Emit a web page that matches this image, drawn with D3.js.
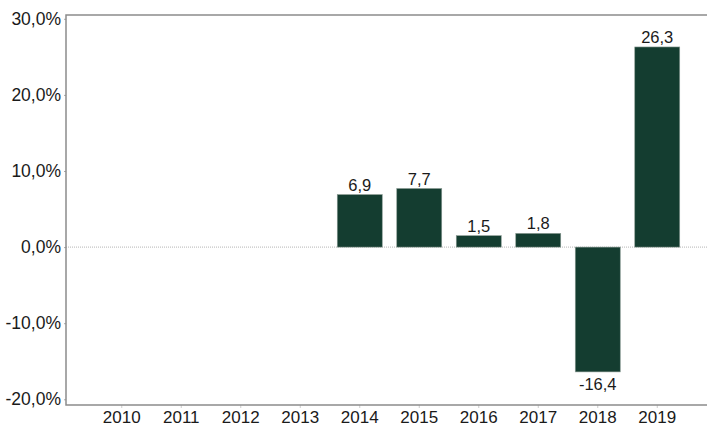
<!DOCTYPE html>
<meta charset="utf-8">
<script src="https://d3js.org/d3.v7.min.js"></script>
<style>
  body { margin: 0; background: #fff; }
  text { font-family: "Liberation Sans", Arial, sans-serif; fill: #1a1a1a; }
</style>
<div id="chart"></div>
<script>

// data
var years = ["2010", "2011", "2012", "2013", "2014", "2015", "2016", "2017", "2018", "2019"];
var growth = [null, null, null, null, 6.9, 7.7, 1.5, 1.8, -16.4, 26.3];
var yTicks = [-20, -10, 0, 10, 20, 30];

var width = 707, height = 428;
var frame = {left: 66, top: 15, right: 707, bottom: 405};

var svg = d3.select("#chart").append("svg")
    .attr("width", width)
    .attr("height", height);

var x = d3.scaleBand()
  .domain(years)
  .range([92, 687])
  .paddingInner(0.244)
  .paddingOuter(0.122);

var y = d3.scaleLinear()
  .domain([-20.75, 30.5])
  .range([frame.bottom, frame.top]);

// comma decimal, plain hyphen for negatives
var fmt = function(v) { return v.toFixed(1).replace(".", ","); };

// zero line
svg.append("line")
    .attr("x1", frame.left)
    .attr("x2", frame.right)
    .attr("y1", y(0))
    .attr("y2", y(0))
    .attr("stroke", "#b5b5b5")
    .attr("stroke-width", 1)
    .attr("stroke-dasharray", "1,1");

// bars
var data = years.map(function(d, i) { return {year: d, value: growth[i]}; })
  .filter(function(d) { return d.value !== null; });

svg.selectAll("rect.bar")
  .data(data)
  .enter().append("rect")
    .attr("class", "bar")
    .attr("x", function(d) { return x(d.year); })
    .attr("width", x.bandwidth())
    .attr("y", function(d) { return y(Math.max(0, d.value)); })
    .attr("height", function(d) { return Math.abs(y(d.value) - y(0)); })
    .attr("fill", "#143d30")
    .attr("stroke", "#8a9a92")
    .attr("stroke-width", 0.6);

// value labels
svg.selectAll("text.val")
  .data(data)
  .enter().append("text")
    .attr("class", "val")
    .attr("x", function(d) { return x(d.year) + x.bandwidth() / 2; })
    .attr("y", function(d) { return d.value >= 0 ? y(d.value) - 4 : y(d.value) + 18; })
    .attr("text-anchor", "middle")
    .style("font-size", "16.5px")
    .text(function(d) { return fmt(d.value); });

// y axis
var yAxis = d3.axisLeft(y)
  .tickValues(yTicks)
  .tickSize(2)
  .tickPadding(3)
  .tickFormat(function(d) { return fmt(d) + "%"; });

var ya = svg.append("g")
  .attr("transform", "translate(" + frame.left + ",0)")
  .call(yAxis);
ya.select(".domain").remove();
ya.selectAll(".tick line").attr("stroke", "#aaa");
ya.selectAll(".tick text")
  .style("font-size", "17.5px")
  .attr("fill", "#1a1a1a");

// x axis
var xAxis = d3.axisBottom(x)
  .tickSize(3)
  .tickPadding(3);

var xa = svg.append("g")
  .attr("transform", "translate(0," + frame.bottom + ")")
  .call(xAxis);
xa.select(".domain").remove();
xa.selectAll(".tick line").attr("stroke", "#ccc");
xa.selectAll(".tick text")
  .style("font-size", "17px")
  .attr("fill", "#1a1a1a");

// frame lines (left, top, bottom)
svg.append("path")
  .attr("d", "M" + frame.right + "," + frame.top + "H" + frame.left + "V" + frame.bottom + "H" + frame.right)
  .attr("fill", "none")
  .attr("stroke", "#8c8c8c")
  .attr("stroke-width", 1.5);

</script>
